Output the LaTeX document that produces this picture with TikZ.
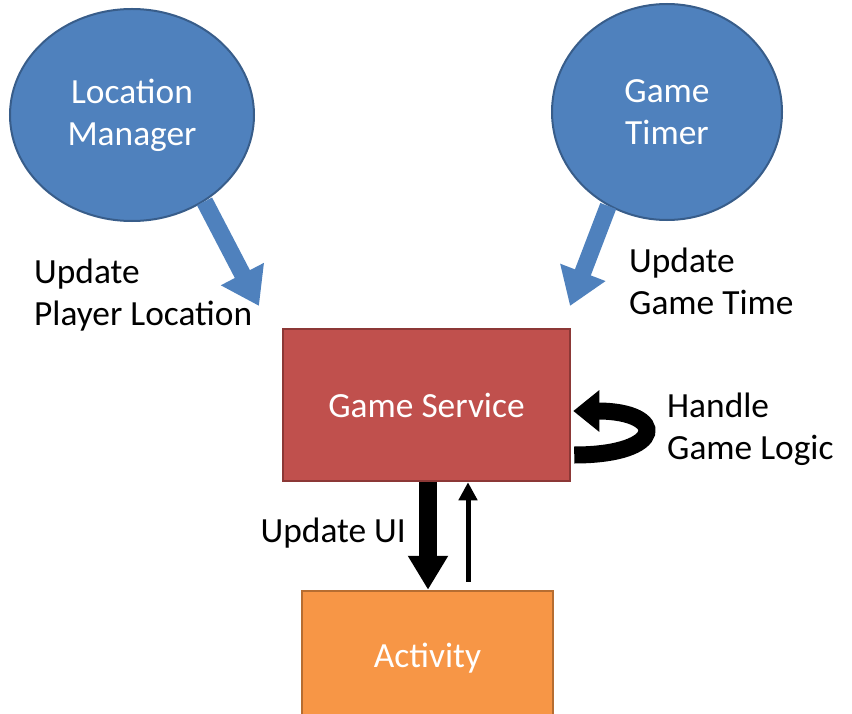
\documentclass[tikz,border=0pt]{standalone}
\usepackage{fontspec}
\setmainfont{Carlito}
\usetikzlibrary{arrows.meta,shapes.geometric}
\definecolor{blueF}{HTML}{4F81BD}
\definecolor{blueD}{HTML}{385D8A}
\definecolor{redF}{HTML}{C0504D}
\definecolor{redD}{HTML}{8C3836}
\definecolor{orF}{HTML}{F79646}
\definecolor{orD}{HTML}{B66D31}
\tikzset{
  bubble/.style={ellipse, fill=blueF, draw=blueD, line width=2bp, text=white,
    font=\fontsize{35.5}{42}\selectfont, align=center, inner sep=0pt},
  boxnode/.style={rectangle, line width=2.5bp, text=white,
    font=\fontsize{35.5}{42}\selectfont, inner sep=0pt},
  lbl/.style={font=\fontsize{35.5}{42}\selectfont, align=left, anchor=west, inner sep=0pt},
  bluearrow/.style={draw=blueF, line width=17bp, -{Triangle[width=46bp,length=36bp]}},
  blackarrow/.style={draw=black, line width=18bp, -{Triangle[width=38bp,length=34bp]}},
}
\begin{document}
\begin{tikzpicture}[x=1bp,y=-1bp]
\useasboundingbox (0,0) rectangle (852,714);
\node[bubble, minimum width=244bp, minimum height=212bp] (loc) at (132,115) {Location\\Manager};
\node[bubble, minimum width=230bp, minimum height=216bp] (timer) at (667,112) {Game\\Timer};
\node[boxnode, fill=redF, draw=redD, minimum width=287bp, minimum height=152bp] (svc) at (426.5,405) {Game Service};
\node[boxnode, fill=orF, draw=orD, minimum width=251bp, minimum height=134bp] (act) at (427.5,658) {Activity};
\node[lbl] (l1) at (34,295) {Update\\Player Location};
\node[lbl] (l2) at (629,281) {Update\\Game Time};
\node[lbl] (l3) at (667,429) {Handle\\Game Logic};
\node[lbl, anchor=east] (l4) at (406,533) {Update UI};
\coordinate (t1) at (259,306);
\coordinate (t2) at (570,306);
\draw[bluearrow] (loc.-50) -- (t1);
\draw[bluearrow] (timer.-122) -- (t2);
\coordinate (ls) at (svc.east |- 0,455);
\coordinate (le) at (svc.east |- 0,411);
\draw[draw=black, line width=17bp, -{Triangle[width=40bp,length=26bp]}]
  ([xshift=3bp]ls) .. controls (667,455) and (667,411) .. ([xshift=2bp]le);
\draw[blackarrow] (svc.south -| 428,0) -- (act.north -| 428,0);
\draw[draw=black, line width=5bp, -{Triangle[width=18bp,length=18bp]}]
  (act.north -| 468,0) ++(0,-8) -- (svc.south -| 468,0);
\end{tikzpicture}
\end{document}
